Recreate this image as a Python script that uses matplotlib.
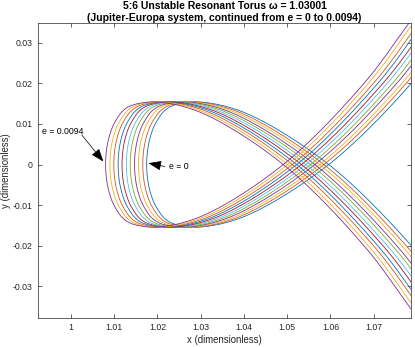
import numpy as np
import matplotlib
matplotlib.use("Agg")
import matplotlib.pyplot as plt

plt.rcParams['font.family'] = ['Liberation Sans', 'DejaVu Sans']

# eccentricity values of the continuation family
e_values = [0.0, 0.00094, 0.00188, 0.00282, 0.00376, 0.0047, 0.00564,
            0.00658, 0.00752, 0.00846, 0.0094]

# x where each curve turns around on y = 0 (left nose) and self-crossing x
nose_x = [1.0175, 1.0166, 1.0156, 1.0147, 1.0137, 1.0128, 1.0118,
          1.0109, 1.0099, 1.0090, 1.0080]
cross_x = [1.0596, 1.0585, 1.0575, 1.0564, 1.0554, 1.0543, 1.0533,
           1.0522, 1.0512, 1.0501, 1.0491]

# shape of the e = 0 curve (one branch: nose -> loop top -> lower right)
base_x = [1.0175, 1.0179, 1.0190, 1.0202, 1.0214, 1.0229, 1.0252, 1.0299,
          1.0403, 1.0596, 1.0789, 1.0892, 1.0930]
base_y = [0.0, 0.0048, 0.0089, 0.0113, 0.0130, 0.0142, 0.0150, 0.0154,
          0.0127, 0.0, -0.0202, -0.0346, -0.0400]

colors = [(0, 0.447, 0.741), (0.85, 0.325, 0.098), (0.929, 0.694, 0.125),
          (0.494, 0.184, 0.556), (0.466, 0.674, 0.188), (0.301, 0.745, 0.933),
          (0.635, 0.078, 0.184)]


def catmull_rom(px, py, n=40):
    P = np.column_stack([px, py])
    P = np.vstack([2 * P[0] - P[1], P, 2 * P[-1] - P[-2]])
    out = []
    for i in range(1, len(P) - 2):
        p0, p1, p2, p3 = P[i - 1], P[i], P[i + 1], P[i + 2]
        t0 = 0.0
        t1 = t0 + np.linalg.norm(p1 - p0) ** 0.5
        t2 = t1 + np.linalg.norm(p2 - p1) ** 0.5
        t3 = t2 + np.linalg.norm(p3 - p2) ** 0.5
        t = np.linspace(t1, t2, n, endpoint=False)[:, None]
        a1 = (t1 - t) / (t1 - t0) * p0 + (t - t0) / (t1 - t0) * p1
        a2 = (t2 - t) / (t2 - t1) * p1 + (t - t1) / (t2 - t1) * p2
        a3 = (t3 - t) / (t3 - t2) * p2 + (t - t2) / (t3 - t2) * p3
        b1 = (t2 - t) / (t2 - t0) * a1 + (t - t0) / (t2 - t0) * a2
        b2 = (t3 - t) / (t3 - t1) * a2 + (t - t1) / (t3 - t1) * a3
        c = (t2 - t) / (t2 - t1) * b1 + (t - t1) / (t2 - t1) * b2
        out.append(c)
    out.append(P[-2][None, :])
    return np.vstack(out)


# full e = 0 curve: mirrored branch (reversed) + branch
bx = np.array(base_x)
by = np.array(base_y)
full_x = np.concatenate([bx[::-1], bx[1:]])
full_y = np.concatenate([-by[::-1], by[1:]])
curve = catmull_rom(full_x, full_y)

fig = plt.figure(figsize=(4.15, 3.47), dpi=100)
ax = fig.add_axes([0.0923, 0.0844, 0.898, 0.848])

for i, e in enumerate(e_values):
    scale = (cross_x[i] - nose_x[i]) / (cross_x[0] - nose_x[0])
    x = nose_x[i] + (curve[:, 0] - nose_x[0]) * scale
    ax.plot(x, curve[:, 1], color=colors[i % 7], lw=0.6)

ax.set_xlim(0.99244, 1.07863)
ax.set_ylim(-0.0377, 0.03472)
ax.set_xticks([1, 1.01, 1.02, 1.03, 1.04, 1.05, 1.06, 1.07])
ax.set_xticklabels(['1', '1.01', '1.02', '1.03', '1.04', '1.05', '1.06', '1.07'])
ax.set_yticks([-0.03, -0.02, -0.01, 0, 0.01, 0.02, 0.03])
ax.set_yticklabels(['-0.03', '-0.02', '-0.01', '0', '0.01', '0.02', '0.03'])

axcol = (0.15, 0.15, 0.15)
ax.tick_params(direction='in', length=3, width=0.5, colors=axcol,
               labelsize=6.3, top=True, right=True, pad=4)
for s in ax.spines.values():
    s.set_linewidth(0.5)
    s.set_color(axcol)

ax.set_xlabel('x (dimensionless)', fontsize=6.9, color=axcol, labelpad=2)
ax.set_ylabel('y (dimensionless)', fontsize=6.9, color=axcol, labelpad=1)
ax.set_title('5:6 Unstable Resonant Torus ω = 1.03001\n'
             '(Jupiter-Europa system, continued from e = 0 to 0.0094)',
             fontsize=7.5, fontweight='bold', pad=2, linespacing=1.15)

ax.annotate('', xy=(1.00748, 0.00074), xytext=(1.00248, 0.0073),
            arrowprops=dict(arrowstyle='-|>,head_length=0.8,head_width=0.3',
                            color='black', lw=0.5, shrinkA=0, shrinkB=0))
ax.text(0.9933, 0.0081, 'e = 0.0094', fontsize=6.3, ha='left', va='center')

ax.annotate('', xy=(1.0179, 0.00034), xytext=(1.02176, -0.00049),
            arrowprops=dict(arrowstyle='-|>,head_length=0.8,head_width=0.3',
                            color='black', lw=0.5, shrinkA=0, shrinkB=0))
ax.text(1.0227, -0.0005, 'e = 0', fontsize=6.3, ha='left', va='center')

fig.savefig('out.png', dpi=100)
